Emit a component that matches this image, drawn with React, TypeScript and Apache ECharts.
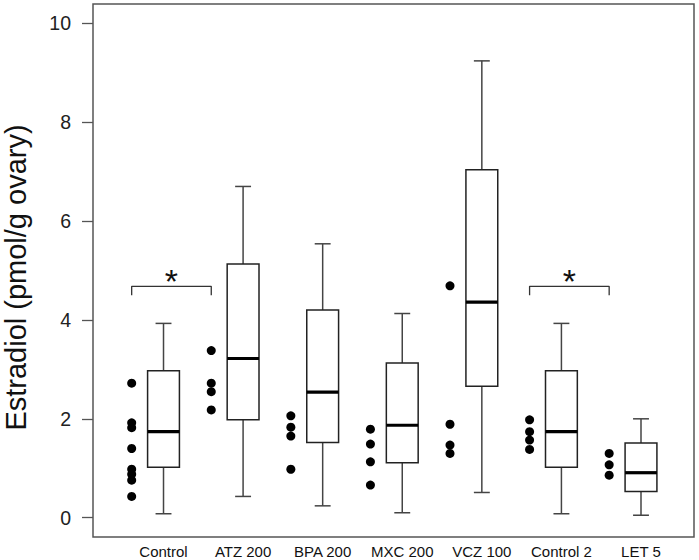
import React, { useEffect, useRef } from "react";
import * as echarts from "echarts";

const categories = ["Control", "ATZ 200", "BPA 200", "MXC 200", "VCZ 100", "Control 2", "LET 5"];
const whiskerLow = [0.08, 0.43, 0.24, 0.1, 0.51, 0.08, 0.05];
const q1 = [1.02, 1.98, 1.52, 1.11, 2.66, 1.02, 0.53];
const median = [1.74, 3.22, 2.54, 1.87, 4.36, 1.74, 0.91];
const q3 = [2.97, 5.13, 4.2, 3.13, 7.04, 2.97, 1.51];
const whiskerHigh = [3.93, 6.7, 5.54, 4.13, 9.24, 3.93, 2.0];
const points = [
  [2.72, 1.92, 1.82, 1.4, 0.98, 0.88, 0.76, 0.43],
  [3.38, 2.72, 2.55, 2.18],
  [2.06, 1.83, 1.65, 0.98],
  [1.79, 1.49, 1.13, 0.66],
  [4.69, 1.89, 1.47, 1.3],
  [1.98, 1.74, 1.57, 1.38],
  [1.3, 1.07, 0.86],
];
const yTicks = [0, 2, 4, 6, 8, 10];
const brackets = [
  { from: 0, to: 1, top: 4.68, foot: 4.5, label: "*" },
  { from: 5, to: 6, top: 4.68, foot: 4.5, label: "*" },
];
const yTitle = "Estradiol (pmol/g ovary)";

const FONT = "Liberation Sans, Arial, sans-serif";

export default function App() {
  const ref = useRef<HTMLDivElement>(null);
  useEffect(() => {
    if (!ref.current) return;
    const chart = echarts.init(ref.current, undefined, { renderer: "svg" });
    const dotOffset = 0.4;
    const boxData = categories.map((_, i) => [i + 1, whiskerLow[i], q1[i], median[i], q3[i], whiskerHigh[i]]);
    const dotData: number[][] = [];
    points.forEach((arr, i) => arr.forEach((v) => dotData.push([i + 1 - dotOffset, v])));

    const bracketSeries = brackets.map((b) => {
      const x1 = b.from + 1 - dotOffset;
      const x2 = b.to + 1 - dotOffset;
      return {
        type: "line",
        data: [
          [x1, b.foot],
          [x1, b.top],
          [x2, b.top],
          [x2, b.foot],
        ],
        showSymbol: false,
        symbol: "none",
        lineStyle: { color: "#333", width: 1.3 },
        silent: true,
        z: 3,
      };
    });
    const starSeries = {
      type: "custom",
      data: brackets.map((b) => [(b.from + b.to) / 2 + 1 - dotOffset, b.top]),
      encode: { x: 0, y: 1 },
      silent: true,
      z: 4,
      renderItem: (params: any, api: any) => {
        const p = api.coord([api.value(0), api.value(1)]);
        return {
          type: "text",
          x: p[0],
          y: p[1] - 5,
          style: {
            text: brackets[params.dataIndex].label,
            fontSize: 34,
            fontFamily: FONT,
            fill: "#111",
            textAlign: "center",
            textVerticalAlign: "middle",
          },
        };
      },
    };

    chart.setOption({
      animation: false,
      backgroundColor: "#ffffff",
      grid: { left: 93, right: 5, top: 23.3, bottom: 42.3, outerBoundsMode: "none" },
      xAxis: {
        type: "value",
        min: 0.114,
        max: 7.666,
        axisLine: { show: false },
        axisTick: { show: false },
        splitLine: { show: false },
        axisLabel: {
          customValues: categories.map((_, i) => i + 1),
          formatter: (v: number) => categories[Math.round(v) - 1] ?? "",
          fontSize: 15,
          fontFamily: FONT,
          color: "#111",
          margin: 26,
        },
      },
      yAxis: {
        type: "value",
        min: 0,
        max: 10,
        interval: 2,
        axisLine: { show: false },
        splitLine: { show: false },
        axisTick: { show: true, length: 11, lineStyle: { color: "#555", width: 1.3 } },
        axisLabel: {
          customValues: yTicks,
          fontSize: 19.5,
          fontFamily: FONT,
          color: "#222",
          margin: 22,
        },
      },
      graphic: [
        {
          type: "rect",
          shape: { x: 93, y: 4, width: 601, height: 533 },
          style: { fill: "none", stroke: "#555", lineWidth: 1.5 },
          silent: true,
          z: 10,
        },
        {
          type: "text",
          x: 16,
          y: 277.5,
          rotation: Math.PI / 2,
          style: {
            text: yTitle,
            fontSize: 29,
            fontFamily: FONT,
            fill: "#111",
            textAlign: "center",
            textVerticalAlign: "middle",
          },
          silent: true,
        },
      ],
      series: [
        {
          type: "custom",
          data: boxData,
          encode: { x: 0, y: [1, 5] },
          z: 2,
          renderItem: (params: any, api: any) => {
            const x = api.value(0);
            const lo = api.value(1);
            const a = api.value(2);
            const m = api.value(3);
            const b = api.value(4);
            const hi = api.value(5);
            const halfW = api.size([0.2, 0])[0];
            const capW = api.size([0.1, 0])[0];
            const pLo = api.coord([x, lo]);
            const pA = api.coord([x, a]);
            const pM = api.coord([x, m]);
            const pB = api.coord([x, b]);
            const pHi = api.coord([x, hi]);
            const wStyle = { stroke: "#444", lineWidth: 1.5 };
            return {
              type: "group",
              children: [
                { type: "line", shape: { x1: pLo[0], y1: pLo[1], x2: pA[0], y2: pA[1] }, style: wStyle },
                { type: "line", shape: { x1: pB[0], y1: pB[1], x2: pHi[0], y2: pHi[1] }, style: wStyle },
                { type: "line", shape: { x1: pLo[0] - capW, y1: pLo[1], x2: pLo[0] + capW, y2: pLo[1] }, style: wStyle },
                { type: "line", shape: { x1: pHi[0] - capW, y1: pHi[1], x2: pHi[0] + capW, y2: pHi[1] }, style: wStyle },
                {
                  type: "rect",
                  shape: { x: pB[0] - halfW, y: pB[1], width: halfW * 2, height: pA[1] - pB[1] },
                  style: { fill: "#fff", stroke: "#222", lineWidth: 1.5 },
                },
                {
                  type: "line",
                  shape: { x1: pM[0] - halfW, y1: pM[1], x2: pM[0] + halfW, y2: pM[1] },
                  style: { stroke: "#000", lineWidth: 3.2 },
                },
              ],
            };
          },
        },
        {
          type: "scatter",
          data: dotData,
          symbol: "circle",
          symbolSize: 9,
          itemStyle: { color: "#000", opacity: 1 },
          z: 3,
        },
        ...bracketSeries,
        starSeries,
      ],
    });
    return () => chart.dispose();
  }, []);
  return <div ref={ref} style={{ width: 699, height: 560, position: "fixed", left: 0, top: 0 }} />;
}
